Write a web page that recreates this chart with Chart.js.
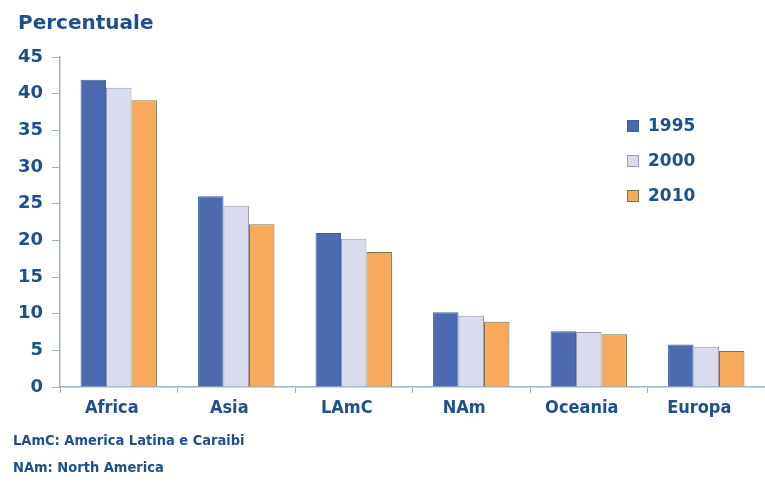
<!DOCTYPE html>
<html>
<head>
<meta charset="utf-8">
<script src="https://cdn.jsdelivr.net/npm/chart.js@4"></script>
<style>
  html, body { margin: 0; padding: 0; background: #fff; }
  #wrap { position: relative; width: 765px; height: 482px; }
  #title { position: absolute; left: 18px; top: 10px; font: bold 20px "DejaVu Sans", sans-serif; color: #1d4f91; }
  .leg { position: absolute; left: 627px; font: bold 17px "DejaVu Sans", sans-serif; color: #1d4f91; height: 20px; line-height: 20px; }
  .leg i { display: inline-block; width: 12px; height: 12px; margin-right: 9px; vertical-align: -1px; box-sizing: border-box; }
  .note { position: absolute; left: 13px; font: bold 14.5px "DejaVu Sans Condensed", sans-serif; font-stretch: condensed; color: #1d4f91; }
</style>
</head>
<body>
<div id="wrap">
  <canvas id="chart" width="765" height="482"></canvas>
  <div id="title">Percentuale</div>
  <div id="legend"></div>
  <div class="note" style="top:432px">LAmC: America Latina e Caraibi</div>
  <div class="note" style="top:459px">NAm: North America</div>
</div>
<script>
// regioni e anni
const regions = ['Africa', 'Asia', 'LAmC', 'NAm', 'Oceania', 'Europa'];
const years = ['1995', '2000', '2010'];

// valori percentuali per anno
const values1995 = [41.9, 26.0, 21.0, 10.2, 7.6, 5.8];
const values2000 = [40.8, 24.7, 20.2, 9.7, 7.5, 5.5];
const values2010 = [39.1, 22.2, 18.4, 8.9, 7.2, 4.9];

const fillColors = ['#4b6aaf', '#d9dcee', '#f9a95c'];
const edgeColors = ['#41609f', '#9a9cb4', '#6f7a4a'];
const textColor = '#1d4f91';
const axisColor = '#9fb1bd';

// legenda a destra, dentro l'area del grafico
const legendEl = document.getElementById('legend');
years.forEach((y, i) => {
    const row = document.createElement('div');
    row.className = 'leg';
    row.style.top = (115 + i * 35) + 'px';
    row.innerHTML = `<i style="background:${fillColors[i]};border:1px solid ${edgeColors[i]}"></i>${y}`;
    legendEl.appendChild(row);
});

const series = [values1995, values2000, values2010];

new Chart(document.getElementById('chart').getContext('2d'), {
    type: 'bar',
    data: {
        labels: regions,
        datasets: series.map((vals, i) => ({
            label: years[i],
            data: vals,
            backgroundColor: fillColors[i],
            borderColor: edgeColors[i],
            borderWidth: 1,
            categoryPercentage: 0.65,
            barPercentage: 1.0
        }))
    },
    options: {
        responsive: false,
        animation: false,
        layout: { padding: { top: 57, right: -2, left: 0, bottom: 0 } },
        plugins: { legend: { display: false }, tooltip: { enabled: false } },
        scales: {
            y: {
                min: 0,
                max: 45,
                ticks: {
                    stepSize: 5,
                    color: textColor,
                    padding: 9,
                    font: { family: 'DejaVu Sans', size: 18, weight: 'bold' }
                },
                grid: { drawOnChartArea: false, tickLength: 8, color: axisColor },
                border: { color: axisColor, width: 1.5 },
                afterFit(scale) { scale.width = 60; }
            },
            x: {
                ticks: {
                    color: textColor,
                    padding: 5,
                    labelOffset: -7,
                    font: { family: 'DejaVu Sans Condensed', size: 18, weight: 'bold' }
                },
                grid: { drawOnChartArea: false, offset: true, tickLength: 6, color: axisColor },
                border: { color: axisColor, width: 1.5 },
                afterFit(scale) { scale.height = 95; }
            }
        }
    }
});
</script>
</body>
</html>
